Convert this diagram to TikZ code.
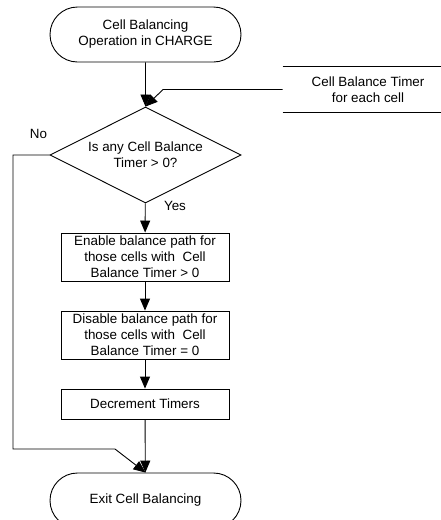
\documentclass[tikz,border=0pt]{standalone}
\usepackage{fontspec}
\setmainfont{Liberation Sans}
\usetikzlibrary{shapes.geometric,shapes.misc,arrows.meta}

\begin{document}
\begin{tikzpicture}[x=1pt,y=-1pt,line width=0.9pt,
  every node/.style={font=\fontsize{13.4}{16}\selectfont,align=center,inner sep=0pt},
  terminal/.style={draw,rounded rectangle,minimum width=191pt,minimum height=55pt},
  decision/.style={draw,diamond,aspect=2,minimum width=191pt,minimum height=96pt},
  process/.style={draw,rectangle,minimum width=168pt,minimum height=48pt},
  store/.style={rectangle,minimum width=170pt,minimum height=45pt},
  flow/.style={-{Triangle[length=12pt,width=10pt]}}]
  \useasboundingbox (0,0) rectangle (440,520);
  % flowchart nodes
  \node [terminal] (start) at (145.5,34.5) {Cell Balancing\\Operation in CHARGE};
  \node [decision] (anytimer) at (145.5,155) {Is any Cell Balance\\Timer > 0?};
  \node [process] (enable) at (145,257) {Enable balance path for\\those cells with~ Cell\\Balance Timer > 0};
  \node [process] (disable) at (145,335) {Disable balance path for\\those cells with~ Cell\\Balance Timer = 0};
  \node [process,minimum height=30pt] (decr) at (145,404) {Decrement Timers};
  \node [terminal] (exit) at (145.5,500.5) {Exit Cell Balancing};
  % data store
  \node [store] (timers) at (368,89.5) {Cell Balance Timer\\for each cell};
  \draw (timers.north west) -- (timers.north east);
  \draw (timers.south west) -- (timers.south east);
  \coordinate (bendin) at (163,89.5);
  \coordinate (nocorner) at (13,155);
  \coordinate (nodown) at (13,449);
  \coordinate (nobend) at (115,449);
  % connectors
  \draw [flow] (start) -- (anytimer);
  \draw [flow] (timers.west) -- (bendin) -- (anytimer.north);
  \draw [flow] (anytimer) -- (enable);
  \draw [flow] (enable) -- (disable);
  \draw [flow] (disable) -- (decr);
  \draw [flow] (decr) -- (exit);
  \draw [flow] (anytimer.west) -- (nocorner) -- (nodown) -- (nobend) -- (exit.north);
  \node (nolabel) at (38.5,134) {No};
  \node (yeslabel) at (175,206) {Yes};
\end{tikzpicture}
\end{document}
